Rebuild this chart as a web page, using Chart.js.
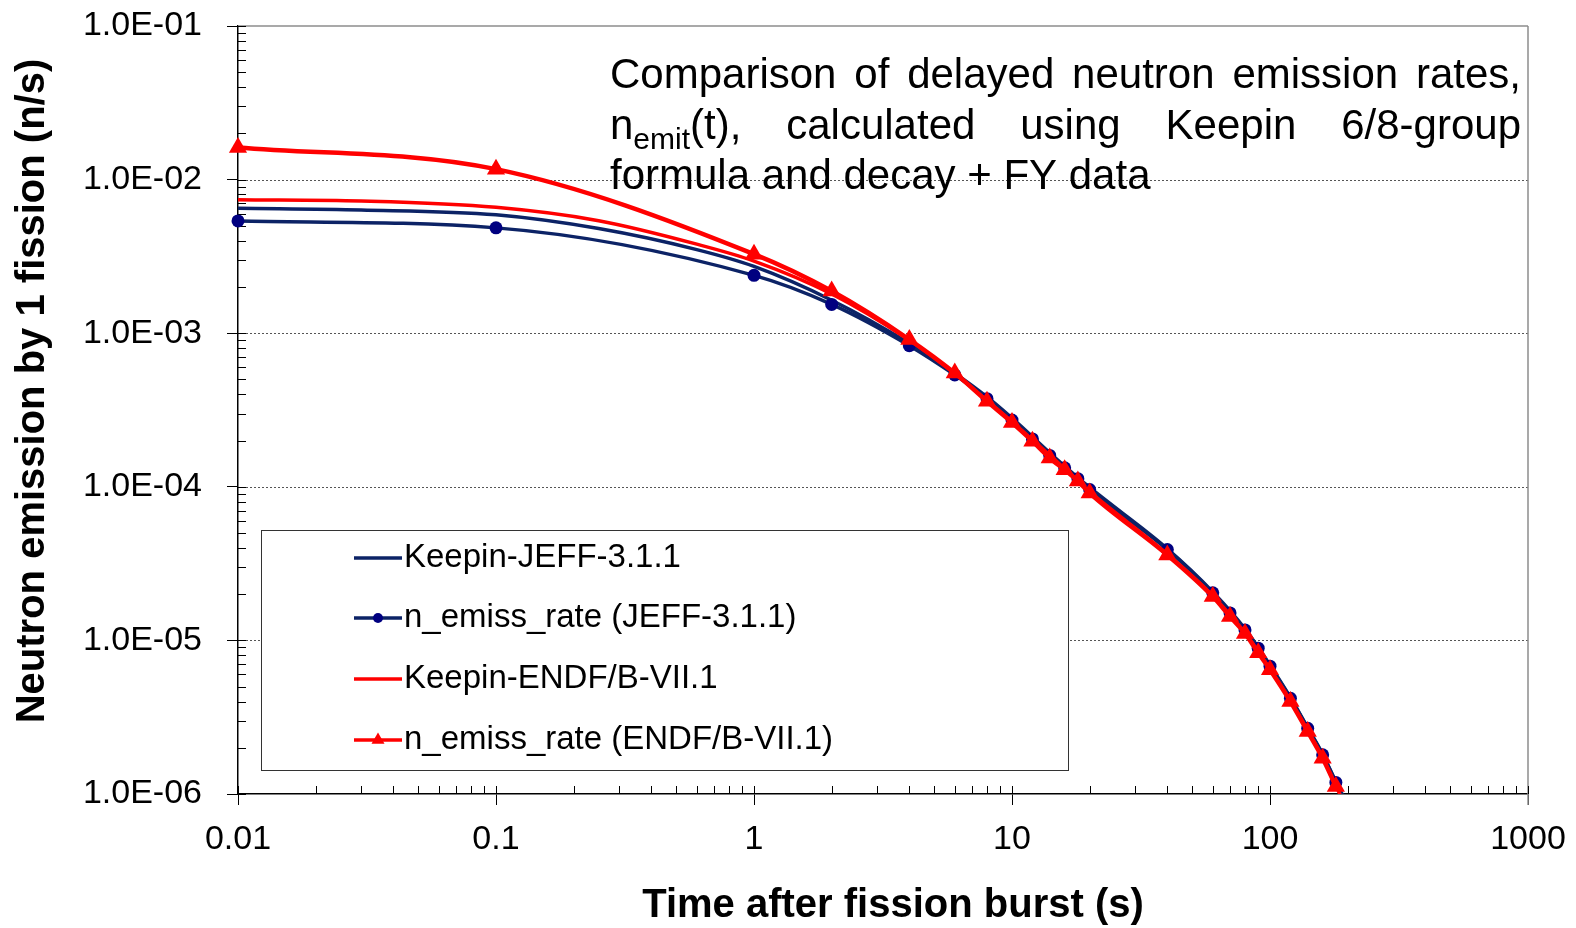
<!DOCTYPE html>
<html lang="en">
<head>
<meta charset="utf-8">
<title>Delayed neutron emission rates</title>
<script src="https://cdn.jsdelivr.net/npm/chart.js@4.4.1/dist/chart.umd.min.js"></script>
<style>
    html, body { margin: 0; padding: 0; background: #fff; }
    #wrap { position: relative; width: 1576px; height: 928px; }
</style>
</head>
<body>
<div id="wrap"><canvas id="emissionChart"></canvas></div>
<script>
// Time points of the n_emiss_rate calculations (s)
const emissTimes = [0.01, 0.1, 1, 2, 4, 6, 8, 10, 12, 14, 16, 18, 20, 40, 60, 70, 80, 90, 100, 120, 140, 160, 180];
const jeffEmiss = [5.38e-3, 4.85e-3, 2.38e-3, 1.54e-3, 8.3e-4, 5.35e-4, 3.75e-4, 2.72e-4, 2.05e-4, 1.6e-4, 1.33e-4, 1.13e-4,
    9.6e-5, 3.9e-5, 2.04e-5, 1.51e-5, 1.17e-5, 8.9e-6, 6.8e-6, 4.2e-6, 2.68e-6, 1.8e-6, 1.19e-6];
const endfEmiss = [1.62e-2, 1.17e-2, 3.27e-3, 1.88e-3, 9.1e-4, 5.5e-4, 3.6e-4, 2.62e-4, 1.98e-4, 1.54e-4, 1.29e-4, 1.09e-4,
    9.1e-5, 3.6e-5, 1.93e-5, 1.43e-5, 1.11e-5, 8.3e-6, 6.45e-6, 4.0e-6, 2.55e-6, 1.71e-6, 1.12e-6];

// Keepin 6/8-group formula curves
const keepinTimes = [0.01, 0.03, 0.1, 0.25, 0.6, 1, 2, 4, 6, 8, 10, 15, 20, 40, 60, 80, 100, 120, 140, 160, 180, 200];
const keepinJeff = [6.5e-3, 6.34e-3, 5.9e-3, 4.8e-3, 3.5e-3, 2.72e-3, 1.64e-3, 8.6e-4, 5.5e-4, 3.85e-4, 2.8e-4, 1.5e-4,
    9.9e-5, 3.95e-5, 2.07e-5, 1.19e-5, 6.9e-6, 4.25e-6, 2.7e-6, 1.82e-6, 1.2e-6, 8.5e-7];
const keepinEndf = [7.4e-3, 7.26e-3, 6.6e-3, 5.4e-3, 3.8e-3, 2.95e-3, 1.8e-3, 9.0e-4, 5.45e-4, 3.65e-4, 2.65e-4, 1.45e-4,
    9.3e-5, 3.65e-5, 1.95e-5, 1.12e-5, 6.5e-6, 4.05e-6, 2.58e-6, 1.73e-6, 1.13e-6, 7.8e-7];

const seriesLabels = ['Keepin-JEFF-3.1.1', 'n_emiss_rate (JEFF-3.1.1)', 'Keepin-ENDF/B-VII.1', 'n_emiss_rate (ENDF/B-VII.1)'];

const xTickValues = [0.01, 0.1, 1, 10, 100, 1000];
const xTickLabels = ['0.01', '0.1', '1', '10', '100', '1000'];
const yTickValues = [1e-6, 1e-5, 1e-4, 1e-3, 1e-2, 1e-1];
const yTickLabels = ['1.0E-06', '1.0E-05', '1.0E-04', '1.0E-03', '1.0E-02', '1.0E-01'];

const xTitle = 'Time after fission burst (s)';
const yTitle = 'Neutron emission by 1 fission (n/s)';
const noteLine1 = ['Comparison', 'of', 'delayed', 'neutron', 'emission', 'rates,'];
const noteLine2 = ['calculated', 'using', 'Keepin', '6/8-group'];
const noteLine3 = 'formula and decay + FY data';

const FONT = '"Liberation Sans", Arial, Helvetica, sans-serif';
const NAVY_LINE = '#0c2366';
const NAVY_MARK = '#000080';
const RED = '#ff0000';

const EmissionChart = {
    init() {
        const ctx = document.querySelector('#emissionChart');
        if (!ctx || typeof Chart === 'undefined') return;

        new Chart(ctx, {
            type: 'line',
            data: { datasets: this.buildDatasets() },
            options: this.buildOptions(),
            plugins: [this.axisDecor(), this.overlay()]
        });
    },

    toPoints(xs, ys) {
        return xs.map((t, i) => ({ x: t, y: ys[i] }));
    },

    buildDatasets() {
        const common = { cubicInterpolationMode: 'monotone', fill: false };
        return [
            { ...common, label: seriesLabels[0], data: this.toPoints(keepinTimes, keepinJeff),
              borderColor: NAVY_LINE, borderWidth: 3.5, pointRadius: 0, order: 3 },
            // markers may overhang the plot edge, as in the original
            { ...common, label: seriesLabels[1], data: this.toPoints(emissTimes, jeffEmiss), clip: false,
              borderColor: NAVY_LINE, borderWidth: 3.5, pointStyle: 'circle', pointRadius: 6.5,
              pointBackgroundColor: NAVY_MARK, pointBorderColor: NAVY_MARK, pointBorderWidth: 0, order: 2 },
            { ...common, label: seriesLabels[2], data: this.toPoints(keepinTimes, keepinEndf),
              borderColor: RED, borderWidth: 3.5, pointRadius: 0, order: 1 },
            { ...common, label: seriesLabels[3], data: this.toPoints(emissTimes, endfEmiss), clip: false,
              borderColor: RED, borderWidth: 4.5, pointStyle: 'triangle', pointRadius: 10.5,
              pointBackgroundColor: RED, pointBorderColor: RED, pointBorderWidth: 0, order: 0 }
        ];
    },

    tickLabel(value, values, labels) {
        const i = values.findIndex(v => Math.abs(Math.log10(v) - Math.log10(value)) < 1e-6);
        return i >= 0 ? labels[i] : '';
    },

    buildOptions() {
        return {
            responsive: true,
            maintainAspectRatio: false,
            devicePixelRatio: 1,
            animation: false,
            events: [],
            layout: { padding: { left: 0, right: 48, top: 26, bottom: 0 } },
            plugins: { legend: { display: false }, tooltip: { enabled: false } },
            scales: {
                x: {
                    type: 'logarithmic',
                    min: 0.01,
                    max: 1000,
                    afterBuildTicks: (axis) => { axis.ticks = xTickValues.map(v => ({ value: v })); },
                    afterFit: (axis) => {
                        axis.height = 134;
                        // label padding should not widen the side margins
                        axis.paddingLeft = 30;
                        axis.paddingRight = 40;
                    },
                    grid: { drawOnChartArea: false, color: '#000', lineWidth: 1, tickLength: 11 },
                    border: { color: '#000', width: 1.5 },
                    ticks: {
                        autoSkip: false, maxRotation: 0, padding: 14, color: '#000',
                        font: { family: FONT, size: 34 },
                        callback: (v) => this.tickLabel(v, xTickValues, xTickLabels)
                    }
                },
                y: {
                    type: 'logarithmic',
                    min: 1e-6,
                    max: 1e-1,
                    afterBuildTicks: (axis) => { axis.ticks = yTickValues.map(v => ({ value: v })); },
                    afterFit: (axis) => {
                        axis.width = 238;
                        axis.paddingTop = 20;
                        axis.paddingBottom = 20;
                    },
                    grid: { drawOnChartArea: false, color: '#000', lineWidth: 1, tickLength: 11 },
                    border: { color: '#000', width: 1.5 },
                    ticks: {
                        autoSkip: false, padding: 25, color: '#000',
                        font: { family: FONT, size: 34 },
                        callback: (v) => this.tickLabel(v, yTickValues, yTickLabels)
                    }
                }
            }
        };
    },

    // Dotted grid, grey frame and the inside minor ticks of the log axes
    axisDecor() {
        return {
            id: 'axisDecor',
            beforeDatasetsDraw(chart) {
                const { ctx, chartArea: a, scales: { x, y } } = chart;
                const seg = (x1, y1, x2, y2) => {
                    ctx.beginPath(); ctx.moveTo(x1, y1); ctx.lineTo(x2, y2); ctx.stroke();
                };
                ctx.save();

                ctx.strokeStyle = '#555';
                ctx.lineWidth = 1;
                ctx.setLineDash([2, 2]);
                yTickValues.slice(1, -1).forEach(v => {
                    const py = Math.round(y.getPixelForValue(v)) + 0.5;
                    seg(a.left, py, a.right, py);
                });
                ctx.setLineDash([]);

                ctx.strokeStyle = '#8c8c8c';
                ctx.lineWidth = 1.5;
                seg(a.left, a.top, a.right, a.top);
                seg(a.right, a.top, a.right, a.bottom + 11);

                ctx.strokeStyle = '#000';
                ctx.lineWidth = 1;
                yTickValues.slice(0, -1).forEach(d => {
                    for (let m = 1; m <= 10; m++) {
                        const py = Math.round(y.getPixelForValue(d * m)) + 0.5;
                        seg(a.left, py, a.left + 8, py);
                    }
                });
                xTickValues.slice(0, -1).forEach(d => {
                    for (let m = 1; m <= 10; m++) {
                        const px = Math.round(x.getPixelForValue(d * m)) + 0.5;
                        seg(px, a.bottom, px, a.bottom - 8);
                    }
                });
                ctx.restore();
            }
        };
    },

    // Axis titles, note text and the boxed legend
    overlay() {
        const self = this;
        return {
            id: 'overlay',
            afterDraw(chart) {
                const { ctx } = chart;
                ctx.save();
                ctx.fillStyle = '#000';

                ctx.font = `bold 40px ${FONT}`;
                ctx.textAlign = 'center';
                ctx.textBaseline = 'middle';
                ctx.fillText(xTitle, 893, 906);
                ctx.save();
                ctx.translate(33, 391);
                ctx.rotate(-Math.PI / 2);
                ctx.fillText(yTitle, 0, 0);
                ctx.restore();

                self.drawNote(ctx);
                self.drawLegend(ctx, chart);
                ctx.restore();
            }
        };
    },

    drawNote(ctx) {
        const left = 610, right = 1521;
        const big = `42px ${FONT}`, small = `30px ${FONT}`;
        ctx.textAlign = 'left';
        ctx.textBaseline = 'alphabetic';

        // line 1, justified
        ctx.font = big;
        let widths = noteLine1.map(w => ctx.measureText(w).width);
        let gap = (right - left - widths.reduce((s, w) => s + w, 0)) / (noteLine1.length - 1);
        let x = left;
        noteLine1.forEach((w, i) => { ctx.fillText(w, x, 88); x += widths[i] + gap; });

        // line 2, justified, first word carries the subscript
        const wN = ctx.measureText('n').width;
        const wT = ctx.measureText('(t),').width;
        ctx.font = small;
        const wSub = ctx.measureText('emit').width;
        ctx.font = big;
        const firstW = wN + wSub + wT;
        widths = noteLine2.map(w => ctx.measureText(w).width);
        gap = (right - left - firstW - widths.reduce((s, w) => s + w, 0)) / noteLine2.length;
        ctx.fillText('n', left, 139);
        ctx.font = small;
        ctx.fillText('emit', left + wN, 149);
        ctx.font = big;
        ctx.fillText('(t),', left + wN + wSub, 139);
        x = left + firstW + gap;
        noteLine2.forEach((w, i) => { ctx.fillText(w, x, 139); x += widths[i] + gap; });

        // line 3, left aligned
        ctx.fillText(noteLine3, left, 189);
    },

    drawLegend(ctx, chart) {
        const box = { x: 261.5, y: 530.5, w: 807, h: 240 };
        ctx.fillStyle = '#fff';
        ctx.fillRect(box.x, box.y, box.w, box.h);
        ctx.strokeStyle = '#333';
        ctx.lineWidth = 1;
        ctx.strokeRect(box.x, box.y, box.w, box.h);

        const rows = [558, 618, 679, 740];
        ctx.font = `33px ${FONT}`;
        ctx.textAlign = 'left';
        ctx.textBaseline = 'middle';
        chart.data.datasets.forEach((ds, i) => {
            const cy = rows[i];
            ctx.strokeStyle = ds.borderColor;
            ctx.lineWidth = 3.5;
            ctx.beginPath(); ctx.moveTo(354, cy); ctx.lineTo(402, cy); ctx.stroke();
            ctx.fillStyle = ds.pointBackgroundColor || ds.borderColor;
            if (ds.pointStyle === 'circle') {
                ctx.beginPath(); ctx.arc(378, cy, 5, 0, Math.PI * 2); ctx.fill();
            } else if (ds.pointStyle === 'triangle') {
                const r = 7.5;
                ctx.beginPath();
                ctx.moveTo(378, cy - r);
                ctx.lineTo(378 + r * 0.866, cy + r * 0.5);
                ctx.lineTo(378 - r * 0.866, cy + r * 0.5);
                ctx.closePath(); ctx.fill();
            }
            ctx.fillStyle = '#000';
            ctx.fillText(ds.label, 404, cy);
        });
    }
};

document.addEventListener('DOMContentLoaded', function() {
    EmissionChart.init();
});
</script>
</body>
</html>
